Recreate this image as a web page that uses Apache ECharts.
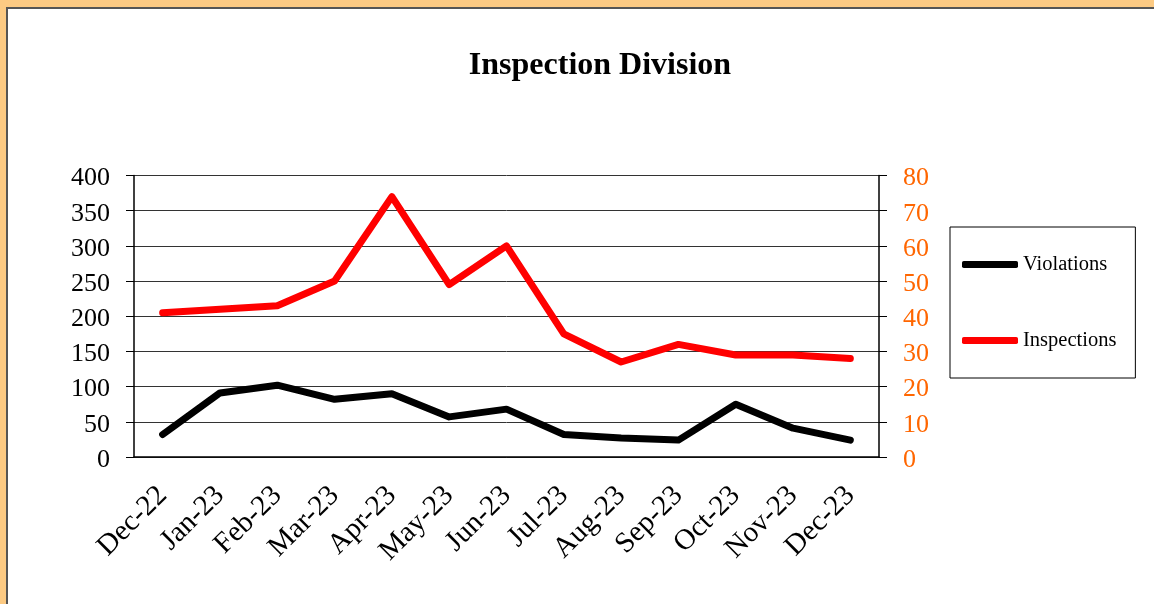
<!DOCTYPE html>
<html>
<head>
<meta charset="utf-8">
<script src="https://cdn.jsdelivr.net/npm/echarts@6/dist/echarts.min.js"></script>
<style>
  html, body { margin: 0; padding: 0; width: 1154px; height: 604px; overflow: hidden; background: #fcca83; }
  #frame { position: absolute; left: 6px; top: 7px; right: 0; bottom: 0; background: #fff; border-top: 2px solid #555; border-left: 2px solid #555; }
  #chart { position: absolute; left: 0; top: 0; width: 1154px; height: 604px; }
</style>
</head>
<body>
<div id="frame"></div>
<div id="chart"></div>
<script>
const months = ["Dec-22", "Jan-23", "Feb-23", "Mar-23", "Apr-23", "May-23", "Jun-23",
                "Jul-23", "Aug-23", "Sep-23", "Oct-23", "Nov-23", "Dec-23"]
const violations = [32, 91, 102, 82, 90, 57, 68, 32, 27, 24, 75, 41, 24]
const inspections = [41, 42, 43, 50, 74, 49, 60, 35, 27, 32, 29, 29, 28]

const serif = '"Liberation Serif", "Times New Roman", serif'

const myChart = echarts.init(document.getElementById('chart'), null, {renderer: 'canvas'})

const option = {
    animation: false,
    backgroundColor: 'transparent',
    title: {
        text: 'Inspection Division',
        left: 595,
        textAlign: 'center',
        top: 45,
        textStyle: {fontFamily: serif, fontSize: 32, fontWeight: 'bold', color: '#000'}
    },
    legend: {
        orient: 'vertical',
        left: 950,
        top: 227,
        padding: [27, 19, 27, 12],
        itemGap: 55,
        itemWidth: 56,
        itemHeight: 7,
        icon: 'roundRect',
        borderColor: '#000',
        borderWidth: 1,
        textStyle: {fontFamily: serif, fontSize: 20.5, color: '#000'},
        data: ['Violations', 'Inspections']
    },
    grid: {left: 134, right: 275, top: 175.5, bottom: 147},
    xAxis: {
        type: 'category',
        data: months,
        boundaryGap: true,
        axisLine: {lineStyle: {color: '#000', width: 1.5}},
        axisTick: {length: 10, lineStyle: {color: '#000'}},
        axisLabel: {
            rotate: 45,
            margin: 34,
            fontFamily: serif,
            fontSize: 29,
            color: '#000',
            interval: 0
        }
    },
    yAxis: [
        {
            type: 'value',
            min: 0,
            max: 400,
            interval: 50,
            axisLine: {show: true, lineStyle: {color: '#000', width: 1.5}},
            axisTick: {show: true, length: 8, lineStyle: {color: '#000'}},
            axisLabel: {margin: 24, fontFamily: serif, fontSize: 26, color: '#000', lineHeight: 32, verticalAlign: 'top', padding: [-13, 0, 0, 0]},
            splitLine: {show: true, lineStyle: {color: '#333', width: 1}}
        },
        {
            type: 'value',
            min: 0,
            max: 80,
            interval: 10,
            position: 'right',
            axisLine: {show: true, lineStyle: {color: '#000', width: 1.5}},
            axisTick: {show: true, length: 8, lineStyle: {color: '#000'}},
            axisLabel: {margin: 24, fontFamily: serif, fontSize: 26, color: '#ff6600', lineHeight: 32, verticalAlign: 'top', padding: [-13, 0, 0, 0]},
            splitLine: {show: false}
        }
    ],
    series: [
        {
            name: 'Violations',
            type: 'line',
            yAxisIndex: 0,
            data: violations,
            showSymbol: false,
            symbol: 'none',
            lineStyle: {color: '#000', width: 7, cap: 'round', join: 'round'},
            itemStyle: {color: '#000'}
        },
        {
            name: 'Inspections',
            type: 'line',
            yAxisIndex: 1,
            data: inspections,
            showSymbol: false,
            symbol: 'none',
            lineStyle: {color: '#ff0000', width: 7, cap: 'round', join: 'round'},
            itemStyle: {color: '#ff0000'}
        }
    ]
}

myChart.setOption(option)
</script>
</body>
</html>
